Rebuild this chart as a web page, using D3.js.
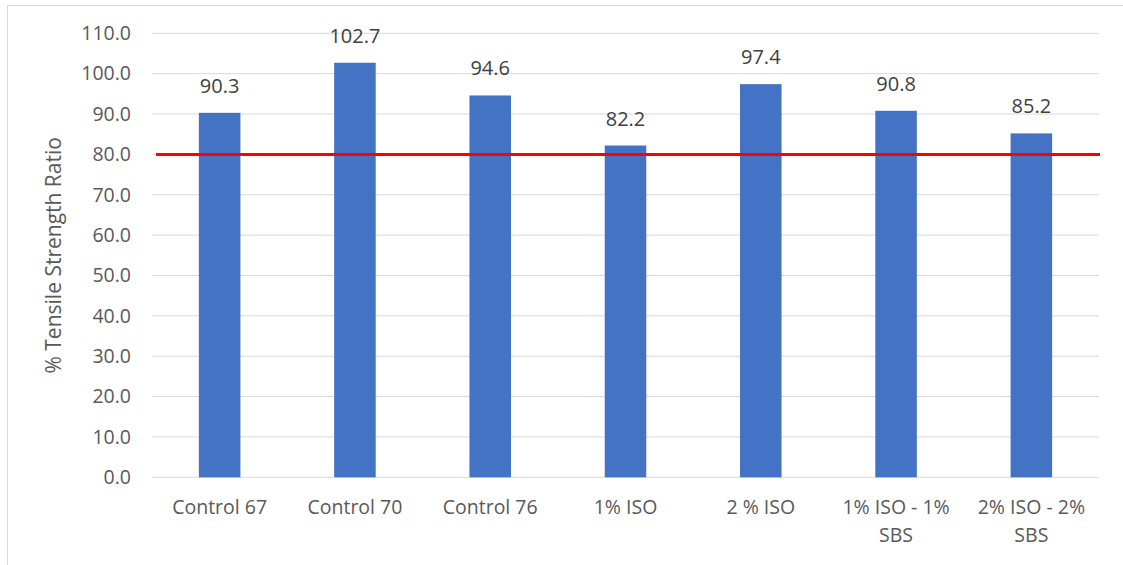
<!DOCTYPE html>
<html>
<head>
<meta charset="utf-8">
<script src="https://cdn.jsdelivr.net/npm/d3@7"></script>
<style>
  html, body { margin: 0; padding: 0; background: #fff; }
  svg { display: block; }
  text { font-family: "Open Sans", "Noto Sans", sans-serif; }
</style>
</head>
<body>
<svg id="chart" width="1123" height="565"></svg>
<script>
// Mix designs and their tensile strength ratios (%)
const categories = ["Control 67", "Control 70", "Control 76", "1% ISO", "2 % ISO", "1% ISO - 1% SBS", "2% ISO - 2% SBS"];
const labelLines = [["Control 67"], ["Control 70"], ["Control 76"], ["1% ISO"], ["2 % ISO"], ["1% ISO - 1%", "SBS"], ["2% ISO - 2%", "SBS"]];
const tsrValues = [90.3, 102.7, 94.6, 82.2, 97.4, 90.8, 85.2];
const yTicks = [0, 10, 20, 30, 40, 50, 60, 70, 80, 90, 100, 110];
const thresholdValue = [80];

const svg = d3.select("#chart");
const W = 1123, H = 565;
const plot = { left: 152, right: 1099, top: 33.3, bottom: 477.3 };

// outer chart frame
svg.append("rect")
  .attr("x", 7.5).attr("y", 5.5)
  .attr("width", W + 10).attr("height", H + 10)
  .attr("fill", "#fff").attr("stroke", "#d9d9d9").attr("stroke-width", 1);

const x = d3.scaleBand().domain(categories).range([plot.left, plot.right]).padding(0);
const y = d3.scaleLinear().domain([0, 110]).range([plot.bottom, plot.top]);
const barW = x.bandwidth() * 0.307;

// horizontal gridlines
svg.append("g").selectAll("line").data(yTicks).join("line")
  .attr("x1", plot.left).attr("x2", plot.right)
  .attr("y1", d => y(d)).attr("y2", d => y(d))
  .attr("stroke", "#d9d9d9").attr("stroke-width", 1);

// y axis tick labels
const yAxis = d3.axisLeft(y).tickValues(yTicks).tickFormat(d3.format(".1f")).tickSize(0).tickPadding(0);
const yg = svg.append("g").attr("transform", `translate(${plot.left - 21},0)`).call(yAxis);
yg.select(".domain").remove();
yg.selectAll("text").attr("fill", "#595959").style("font-size", "19.5px").style("font-family", "'Open Sans', sans-serif");

// y axis title
svg.append("text")
  .attr("transform", `translate(61,${(plot.top + plot.bottom) / 2}) rotate(-90)`)
  .attr("text-anchor", "middle")
  .attr("fill", "#595959")
  .style("font-size", "21px")
  .text("% Tensile Strength Ratio");

// bars
svg.append("g").selectAll("rect").data(tsrValues).join("rect")
  .attr("x", (d, i) => x(categories[i]) + x.bandwidth() / 2 - barW / 2)
  .attr("width", barW)
  .attr("y", d => y(d))
  .attr("height", d => y(0) - y(d))
  .attr("fill", "#4472c4");

// value labels above bars
svg.append("g").selectAll("text").data(tsrValues).join("text")
  .attr("x", (d, i) => x(categories[i]) + x.bandwidth() / 2)
  .attr("y", d => y(d) - 20)
  .attr("text-anchor", "middle")
  .attr("fill", "#404040")
  .style("font-size", "20px")
  .text(d => d.toFixed(1));

// x category labels
const xl = svg.append("g").selectAll("text").data(labelLines).join("text")
  .attr("x", (d, i) => x(categories[i]) + x.bandwidth() / 2)
  .attr("y", 514)
  .attr("text-anchor", "middle")
  .attr("fill", "#595959")
  .style("font-size", "19.5px");
xl.each(function (lines) {
  const t = d3.select(this);
  const cx = t.attr("x");
  lines.forEach((ln, k) => {
    t.append("tspan").attr("x", cx).attr("dy", k === 0 ? 0 : 28).text(ln);
  });
});

// 80% threshold line
svg.append("g").selectAll("line").data(thresholdValue).join("line")
  .attr("x1", plot.left + 4).attr("x2", plot.right + 1)
  .attr("y1", d => y(d)).attr("y2", d => y(d))
  .attr("stroke", "#ff0000").attr("stroke-width", 3);
</script>
</body>
</html>
